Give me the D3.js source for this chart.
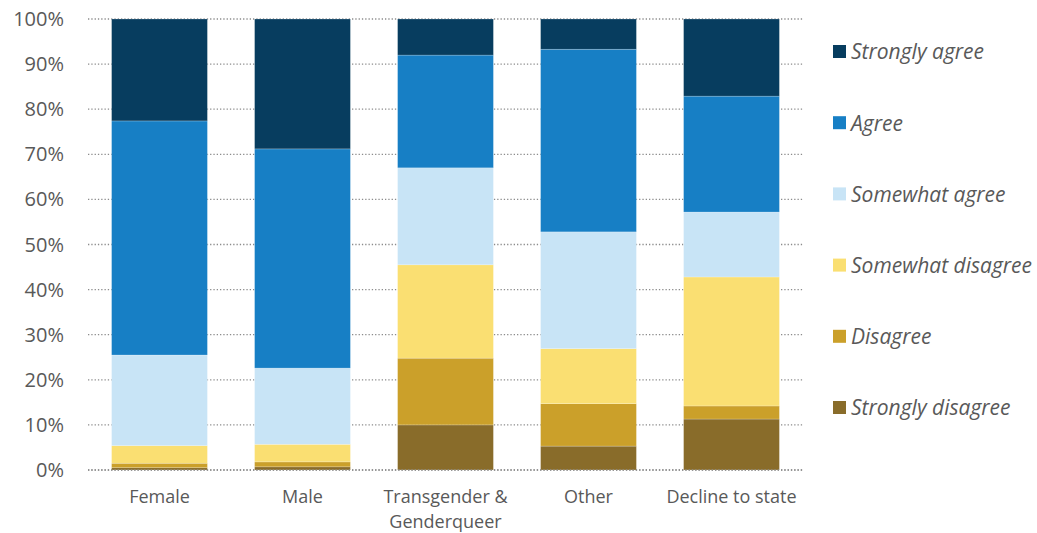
<!DOCTYPE html>
<html>
<head>
<meta charset="utf-8">
<script src="https://cdn.jsdelivr.net/npm/d3@7.9.0/dist/d3.min.js"></script>
<style>
  body { margin: 0; background: #fff; }
  text { font-family: "Open Sans", sans-serif; fill: #595959; }
</style>
</head>
<body>
<svg id="chart" width="1037" height="533"></svg>
<script>
// categories and responses (percent of each group)
const groups = ["Female", "Male", "Transgender & Genderqueer", "Other", "Decline to state"];
const groupLines = [["Female"], ["Male"], ["Transgender &", "Genderqueer"], ["Other"], ["Decline to state"]];
const responses = ["Strongly disagree", "Disagree", "Somewhat disagree", "Somewhat agree", "Agree", "Strongly agree"];

const stronglyDisagree = [0.5, 0.7, 10.0, 5.3, 11.3];
const disagree         = [1.0, 1.1, 14.8, 9.4, 2.9];
const somewhatDisagree = [3.9, 3.9, 20.7, 12.2, 28.6];
const somewhatAgree    = [20.1, 16.9, 21.5, 25.9, 14.4];
const agree            = [51.9, 48.6, 25.0, 40.5, 25.7];
const stronglyAgree    = [22.6, 28.8, 8.0, 6.7, 17.1];

const yTicks = [0, 10, 20, 30, 40, 50, 60, 70, 80, 90, 100];

const colors = ["#896c2a", "#cba02a", "#fadf72", "#c8e4f6", "#177fc5", "#073d5f"];

// build table for the stack
const series = [stronglyDisagree, disagree, somewhatDisagree, somewhatAgree, agree, stronglyAgree];
const table = groups.map((g, i) => {
    const row = { group: g };
    responses.forEach((r, j) => row[r] = series[j][i]);
    return row;
});

const svg = d3.select("#chart");
const margin = { left: 88, right: 234, top: 19, bottom: 63 };
const width = 1037 - margin.left - margin.right;
const height = 533 - margin.top - margin.bottom;

const g = svg.append("g").attr("transform", `translate(${margin.left},${margin.top})`);

const x = d3.scaleBand().domain(groups).range([0, width]).paddingInner(0.33).paddingOuter(0.165);
const y = d3.scaleLinear().domain([0, 100]).range([height, 0]);

// gridlines
g.selectAll(".grid")
    .data(yTicks)
    .enter()
    .append("line")
    .attr("x1", 0)
    .attr("x2", width)
    .attr("y1", d => y(d))
    .attr("y2", d => y(d))
    .attr("stroke", "#8c8c8c")
    .attr("stroke-width", 1.3)
    .attr("stroke-dasharray", "1.3,2");

// y labels
g.selectAll(".ylab")
    .data(yTicks)
    .enter()
    .append("text")
    .attr("x", -24)
    .attr("y", d => y(d))
    .attr("dy", "0.35em")
    .attr("text-anchor", "end")
    .style("font-size", "20px")
    .text(d => d + "%");

const stack = d3.stack().keys(responses)(table);

const layers = g.selectAll(".layer")
    .data(stack)
    .enter()
    .append("g")
    .attr("fill", (d, i) => colors[i]);

layers.selectAll("rect")
    .data(d => d)
    .enter()
    .append("rect")
    .attr("x", d => x(d.data.group))
    .attr("width", x.bandwidth())
    .attr("y", d => y(d[1]))
    .attr("height", d => y(d[0]) - y(d[1]))
    .attr("stroke", "#ffffff")
    .attr("stroke-opacity", 0.35)
    .attr("stroke-width", 0.6);

// baseline over the bars
g.append("line")
    .attr("x1", 0)
    .attr("x2", width)
    .attr("y1", y(0))
    .attr("y2", y(0))
    .attr("stroke", "#8c8c8c")
    .attr("stroke-width", 1.3)
    .attr("stroke-dasharray", "1.3,2");

// category labels, one text per line
groups.forEach((grp, i) => {
    g.selectAll(".cat" + i)
        .data(groupLines[i])
        .enter()
        .append("text")
        .attr("x", x(grp) + x.bandwidth() / 2)
        .attr("y", (p, k) => height + 33 + k * 24.5)
        .attr("text-anchor", "middle")
        .style("font-size", "18px")
        .text(p => p);
});

// legend, top to bottom: strongly agree first
const legendItems = responses.map((r, i) => ({ label: r, color: colors[i] })).reverse();

const legend = svg.append("g")
    .attr("transform", "translate(833,52)");

const item = legend.selectAll(".item")
    .data(legendItems)
    .enter()
    .append("g")
    .attr("transform", (d, i) => `translate(0,${i * 71.2})`);

item.append("rect")
    .attr("x", 0)
    .attr("y", -7)
    .attr("width", 13)
    .attr("height", 13)
    .attr("fill", d => d.color);

item.append("text")
    .attr("x", 18)
    .attr("y", 0)
    .attr("dy", "0.35em")
    .style("font-size", "21px")
    .style("font-style", "italic")
    .text(d => d.label);
</script>
</body>
</html>
